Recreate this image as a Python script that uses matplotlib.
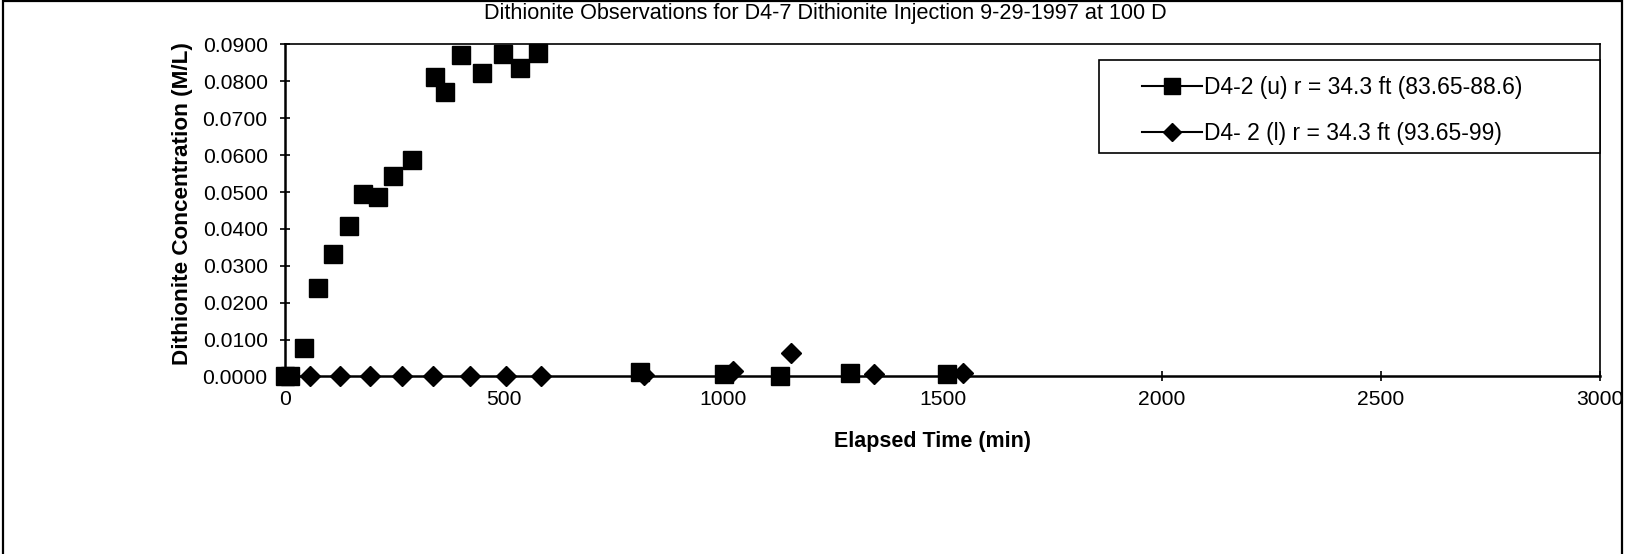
import matplotlib
matplotlib.use("Agg")
import matplotlib.pyplot as plt
from matplotlib.lines import Line2D
from matplotlib.patches import Rectangle
from matplotlib.ticker import FormatStrFormatter, MultipleLocator


TITLE = "Dithionite Observations for D4-7 Dithionite Injection 9-29-1997 at 100 D"
X_LABEL = "Elapsed Time (min)"
Y_LABEL = "Dithionite Concentration (M/L)"

# upper screened interval, D4-2 (u)
UPPER_LABEL = "D4-2 (u) r = 34.3 ft (83.65-88.6)"
UPPER_TIME = [0, 12, 44, 76, 110, 146, 178, 213, 246, 289, 342, 366, 402,
              450, 498, 536, 576, 809, 1001, 1129, 1289, 1509]
UPPER_CONC = [0.0000, 0.0000, 0.0076, 0.0241, 0.0333, 0.0408, 0.0495, 0.0486,
              0.0543, 0.0588, 0.0812, 0.0772, 0.0871, 0.0824, 0.0875, 0.0835,
              0.0878, 0.0011, 0.0006, 0.0002, 0.0010, 0.0006]

# lower screened interval, D4-2 (l)
LOWER_LABEL = "D4- 2 (l) r = 34.3 ft (93.65-99)"
LOWER_TIME = [56, 125, 194, 266, 338, 422, 505, 585, 820, 1022, 1155, 1344, 1546]
LOWER_CONC = [0.0000, 0.0000, 0.0000, 0.0000, 0.0000, 0.0000, 0.0000, 0.0000,
              0.0003, 0.0015, 0.0065, 0.0007, 0.0009]

X_MAX = 3000
Y_MAX = 0.09

FONT = "Liberation Sans"


def main() -> None:
    plt.rcParams["font.family"] = FONT

    fig = plt.figure(figsize=(16.25, 5.54), dpi=100)
    ax = fig.add_axes([0.1754, 0.3204, 0.8093, 0.5993])

    ax.plot(UPPER_TIME, UPPER_CONC, linestyle="none", marker="s", markersize=13,
            color="black", clip_on=False, zorder=4)
    ax.plot(LOWER_TIME, LOWER_CONC, linestyle="none", marker="D", markersize=10,
            color="black", clip_on=False, zorder=5)

    ax.set_xlim(0, X_MAX)
    ax.set_ylim(0, Y_MAX)
    ax.xaxis.set_major_locator(MultipleLocator(500))
    ax.yaxis.set_major_locator(MultipleLocator(0.01))
    ax.yaxis.set_major_formatter(FormatStrFormatter("%.4f"))
    ax.tick_params(direction="inout", length=7, width=1.2, labelsize=15.2)
    ax.tick_params(axis="y", pad=9)
    ax.tick_params(axis="x", pad=6)

    for side in ("left", "bottom"):
        ax.spines[side].set_linewidth(1.8)
    for side in ("top", "right"):
        ax.spines[side].set_linewidth(1.2)

    ax.set_xlabel(X_LABEL, fontsize=15.5, fontweight="bold")
    ax.set_ylabel(Y_LABEL, fontsize=16.2, fontweight="bold")
    ax.xaxis.set_label_coords(0.4925, -0.165)
    ax.yaxis.set_label_coords(-0.07, 0.52)

    fig.text(0.508, 0.975, TITLE, ha="center", va="center", fontsize=15.6)

    # legend box sits against the right edge of the plot area
    ax.add_patch(Rectangle((0.619, 0.674), 0.381, 0.279, transform=ax.transAxes,
                           facecolor="white", edgecolor="black", linewidth=1.2,
                           clip_on=False, zorder=6))
    handles = [
        Line2D([], [], color="black", linewidth=1.5, marker="s", markersize=11),
        Line2D([], [], color="black", linewidth=1.5, marker="D", markersize=9),
    ]
    leg = ax.legend(handles, [UPPER_LABEL, LOWER_LABEL], loc="upper left",
                    bbox_to_anchor=(0.652, 0.905), frameon=False, fontsize=16.5,
                    handlelength=2.6, handletextpad=0.1, labelspacing=1.0,
                    borderpad=0, borderaxespad=0)
    leg.set_zorder(7)

    # outer chart border
    fig.patches.append(Rectangle((0.002, -0.02), 0.996, 1.0175, transform=fig.transFigure,
                                 facecolor="none", edgecolor="black", linewidth=1.6))

    fig.savefig("out.png", dpi=100)
    plt.close(fig)


if __name__ == "__main__":
    main()
